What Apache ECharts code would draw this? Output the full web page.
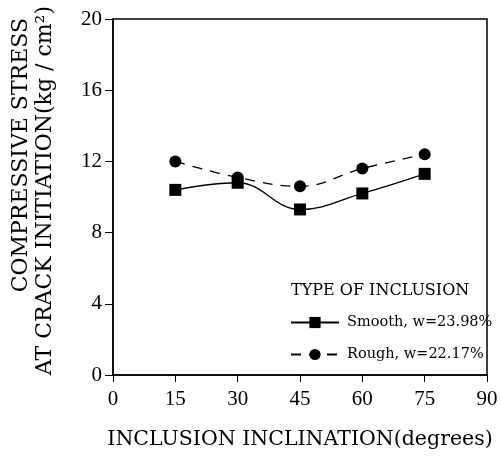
<!DOCTYPE html>
<html>
<head>
<meta charset="utf-8">
<script src="https://cdn.jsdelivr.net/npm/echarts@6/dist/echarts.min.js"></script>
<style>
  html, body { margin: 0; padding: 0; background: #fff; }
  #chart { width: 501px; height: 458px; }
</style>
</head>
<body>
<div id="chart"></div>
<script>
// inclination (degrees)
const angles = [15, 30, 45, 60, 75]
const smoothVals = [10.4, 10.8, 9.3, 10.2, 11.3]
const roughVals = [12.0, 11.1, 10.6, 11.6, 12.4]
const seriesNames = ['Smooth, w=23.98%', 'Rough, w=22.17%']
const yTitle = ['COMPRESSIVE STRESS', 'AT CRACK INITIATION(kg / cm²)']

const chart = echarts.init(document.getElementById('chart'))
const serif = 'DejaVu Serif'
const numFont = 'Liberation Serif'

chart.setOption({
  animation: false,
  textStyle: { fontFamily: serif, color: '#000' },
  title: {
    text: 'TYPE OF INCLUSION',
    left: 286,
    top: 278,
    textStyle: { fontFamily: serif, fontSize: 16, fontWeight: 'normal', color: '#000' }
  },
  legend: {
    orient: 'vertical',
    left: 285,
    top: 310,
    itemWidth: 48,
    itemHeight: 14,
    itemGap: 17,
    textStyle: { fontFamily: serif, fontSize: 14.5, color: '#000', padding: [0, 0, 0, 3] },
    data: seriesNames
  },
  grid: { left: 113, right: 14, top: 19, bottom: 83 },
  xAxis: {
    type: 'value',
    min: 0, max: 90, interval: 15,
    name: 'INCLUSION INCLINATION(degrees)',
    nameLocation: 'middle',
    nameGap: 54,
    nameTextStyle: { fontFamily: serif, fontSize: 20.5, color: '#000' },
    axisLine: { onZero: false, lineStyle: { color: '#000', width: 1.5 } },
    axisTick: { length: 7, lineStyle: { color: '#000' } },
    axisLabel: { fontFamily: numFont, fontSize: 21, color: '#000', margin: 14 },
    splitLine: { show: false }
  },
  yAxis: {
    type: 'value',
    min: 0, max: 20, interval: 4,
    axisLine: { lineStyle: { color: '#000', width: 1.5 } },
    axisTick: { length: 8, lineStyle: { color: '#000' } },
    axisLabel: { fontFamily: numFont, fontSize: 21, color: '#000', margin: 11 },
    splitLine: { show: false }
  },
  graphic: [{
    type: 'rect',
    shape: { x: 113, y: 19, width: 374, height: 356 },
    style: { fill: 'none', stroke: '#000', lineWidth: 1.5 },
    silent: true
  }, {
    type: 'text',
    x: 21, y: 18,
    rotation: Math.PI / 2,
    style: { text: yTitle[0], font: '22px "DejaVu Serif"', fill: '#000', align: 'right', verticalAlign: 'middle' }
  }, {
    type: 'text',
    x: 45, y: 6,
    rotation: Math.PI / 2,
    style: { text: yTitle[1], font: '22px "DejaVu Serif"', fill: '#000', align: 'right', verticalAlign: 'middle' }
  }],
  series: [{
    name: seriesNames[0],
    type: 'line',
    smooth: 0.4,
    data: angles.map((a, i) => [a, smoothVals[i]]),
    symbol: 'rect',
    symbolSize: 12,
    itemStyle: { color: '#000' },
    lineStyle: { color: '#000', width: 1.3 }
  }, {
    name: seriesNames[1],
    type: 'line',
    smooth: 0.4,
    data: angles.map((a, i) => [a, roughVals[i]]),
    symbol: 'circle',
    symbolSize: 12,
    itemStyle: { color: '#000' },
    lineStyle: { color: '#000', width: 1.3, type: [10, 8] }
  }]
})
</script>
</body>
</html>
